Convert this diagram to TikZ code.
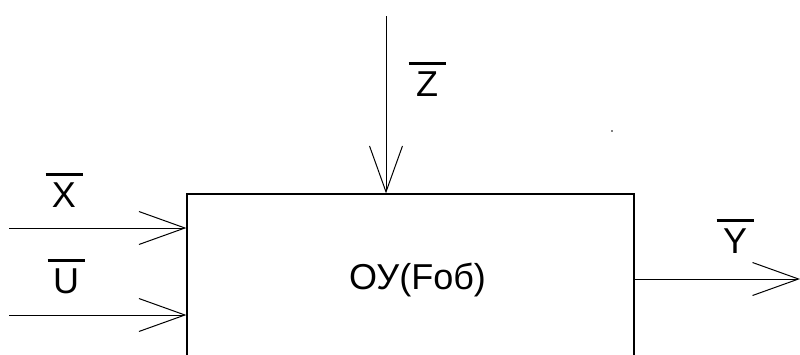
\documentclass[tikz,border=0pt]{standalone}
\usepackage{fontspec}
\setmainfont{Liberation Sans}
\usetikzlibrary{arrows.meta}
\newcommand\ovlbl[1]{\vbox{\hrule height 3pt width 37pt\kern 6.5pt\hbox to 37pt{\hss #1\hss}}}
\tikzset{
  arr/.style={line width=1pt, -{Straight Barb[length=46pt,width=33pt,line width=1pt]}},
  lab/.style={inner sep=0pt, anchor=base, font=\fontsize{36}{40}\selectfont},
}
\begin{document}
\begin{tikzpicture}[x=1pt,y=-1pt]
\clip (0,0) rectangle (800,354);
\fill[white] (0,0) rectangle (800,354);
\node[draw, line width=1.2pt, minimum width=447pt, minimum height=168pt, inner sep=0pt] (box) at (410.5,278) {};
\node[lab] (lbl) at (417.5,289) {ОУ(Fоб)};
\coordinate (xin) at (9,228);
\coordinate (uin) at (9,315);
\coordinate (zin) at (386,16);
\coordinate (yout) at (800,279);
\draw[arr] (xin) -- (xin -| box.west);
\draw[arr] (uin) -- (uin -| box.west);
\draw[arr] (zin) -- (zin |- box.north);
\draw[arr] (box.east |- yout) -- (yout);
\node[lab] (xl) at (64,207) {\ovlbl{X}};
\node[lab] (ul) at (66,293) {\ovlbl{U}};
\node[lab] (zl) at (427,96) {\ovlbl{Z}};
\node[lab] (yl) at (735,253) {\ovlbl{Y}};
\fill (612,131) circle (0.8pt);
\end{tikzpicture}
\end{document}
